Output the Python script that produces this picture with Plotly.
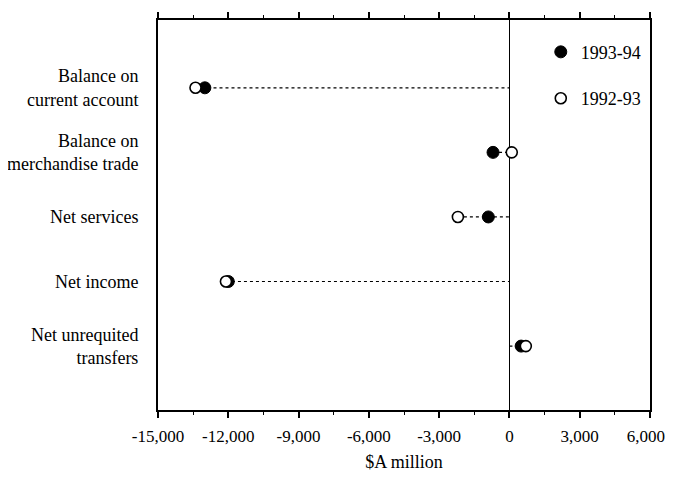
import plotly.graph_objects as go

categories = ["Balance on<br>current account", "Balance on<br>merchandise trade",
              "Net services", "Net income", "Net unrequited<br>transfers"]
values_1993_94 = [-13000, -700, -900, -12000, 500]
values_1992_93 = [-13400, 100, -2200, -12100, 700]
x_tickvals = [-15000, -12000, -9000, -6000, -3000, 0, 3000, 6000]
x_ticktext = ["-15,000", "-12,000", "-9,000", "-6,000", "-3,000", "0", "3,000", "6,000\u2002"]

FONT = "Liberation Serif, Times New Roman, serif"

# dotted connectors from zero to the furthest point
cx, cy = [], []
for c, a, b in zip(categories, values_1993_94, values_1992_93):
    cx += [min(a, b, 0), max(a, b, 0), None]
    cy += [c, c, None]

fig = go.Figure()
fig.add_trace(go.Scatter(x=cx, y=cy, mode="lines", showlegend=False, hoverinfo="skip",
                         line=dict(color="black", width=1.2, dash="dot")))
fig.add_trace(go.Scatter(x=values_1993_94, y=categories, mode="markers", name="1993-94",
                         legendgroup="a",
                         marker=dict(size=12, color="black", line=dict(color="black", width=1))))
fig.add_trace(go.Scatter(x=values_1992_93, y=categories, mode="markers", name="1992-93",
                         legendgroup="b",
                         marker=dict(size=11, color="white", line=dict(color="black", width=1.6))))

# the page body adds an 8px margin, so the figure is sized to fit the window
fig.update_layout(
    width=665, height=474,
    margin=dict(l=150, r=23, t=12, b=72),
    paper_bgcolor="white", plot_bgcolor="white",
    font=dict(family=FONT, size=18, color="black"),
    showlegend=True,
    legend=dict(x=0.778, y=0.965, xanchor="left", yanchor="top",
                bgcolor="rgba(0,0,0,0)", tracegroupgap=20,
                font=dict(family=FONT, size=18, color="black"),
                itemwidth=30),
    xaxis=dict(range=[-15000, 6000], tickvals=x_tickvals, ticktext=x_ticktext,
               automargin=False, ticklabeloverflow="allow",
               showgrid=False, zeroline=True, zerolinecolor="black", zerolinewidth=1.2,
               showline=True, linecolor="black", linewidth=2, mirror="allticks",
               ticks="outside", ticklen=6, tickwidth=1.5, tickcolor="black",
               ticklabelstandoff=4,
               minor=dict(dtick=1500, tick0=0, ticks="outside", ticklen=3, tickwidth=1.2,
                          tickcolor="black", showgrid=False),
               title=dict(text="$A million", standoff=10,
                          font=dict(family=FONT, size=18, color="black")),
               tickfont=dict(family=FONT, size=17, color="black")),
    yaxis=dict(type="category", categoryorder="array", categoryarray=categories,
               automargin=False,
               range=[4.99, -1.05], showgrid=False, zeroline=False,
               showline=True, linecolor="black", linewidth=2, mirror=True,
               ticks="", ticklabelstandoff=14,
               tickfont=dict(family=FONT, size=18, color="black")),
)

fig.write_html("out.html")
